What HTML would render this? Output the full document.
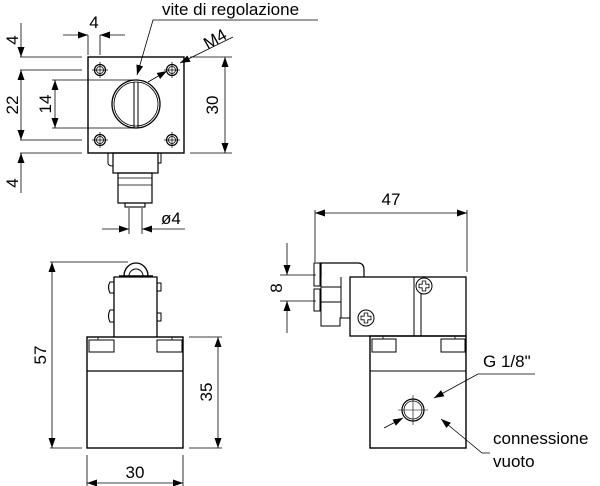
<!DOCTYPE html>
<html><head><meta charset="utf-8"><style>
html,body{margin:0;padding:0;background:#fff}
svg{display:block}
text{font-family:"Liberation Sans",Arial,sans-serif;fill:#000}
</style></head><body>
<svg width="600" height="486" viewBox="0 0 600 486" xmlns="http://www.w3.org/2000/svg">
<defs>
<marker id="a" viewBox="0 0 10 10" refX="10" refY="5" markerWidth="10" markerHeight="10" orient="auto-start-reverse" markerUnits="userSpaceOnUse"><path d="M0,1.5 L10,5 L0,8.5 z" fill="#000"/></marker>
<g id="hole"><circle r="5.5" fill="none" stroke="#000" stroke-width="1.2"/><circle r="3.5" fill="none" stroke="#000" stroke-width="0.8"/><path d="M-8,0H8M0,-8V8" stroke="#000" stroke-width="0.7"/></g>
<g id="screw"><circle r="8" fill="#fff" stroke="#000" stroke-width="1"/><path d="M-1.8,-5h3.6v3.2h3.2v3.6h-3.2v3.2h-3.6v-3.2h-3.2v-3.6h3.2z" fill="none" stroke="#000" stroke-width="0.8"/></g>
</defs>
<g fill="none" stroke="#000" stroke-width="0.8">
<rect x="88" y="57" width="96" height="96" stroke-width="1.4"/>
<circle cx="136" cy="104" r="24" stroke-width="1.3"/>
<circle cx="136" cy="104" r="22" stroke-width="0.8"/>
<path d="M134,82V128M138,82V128" stroke-width="1"/>
<rect x="113" y="153" width="45" height="20" stroke-width="1.2"/>
<path d="M108,153V163Q108,166 113,166M158,153V163H161V153" stroke-width="1"/>
<rect x="118" y="173" width="34" height="30" stroke-width="1.2"/>
<path d="M118,178H152M118,185H152" stroke-width="0.7"/>
<rect x="125" y="203" width="20" height="4" stroke-width="1.1"/>
<path d="M20,57H82M20,70H82M20,140H82M20,153H82"/>
<path d="M52,80H136M52,128H136"/>
<path d="M190,57H232M190,153H232"/>
<path d="M88,35V55M100,35V55"/>
<path d="M129,208V234M142,208V234"/>
<path d="M21,23V57" marker-end="url(#a)"/>
<path d="M21,70V140" marker-start="url(#a)" marker-end="url(#a)"/>
<path d="M21,153V193" marker-start="url(#a)"/>
<path d="M55,80V128" marker-start="url(#a)" marker-end="url(#a)"/>
<path d="M225,57V153" marker-start="url(#a)" marker-end="url(#a)"/>
<path d="M63,35H88" marker-end="url(#a)"/>
<path d="M125,35H100" marker-end="url(#a)"/>
<path d="M102,229H129" marker-end="url(#a)"/>
<path d="M185,229H142" marker-end="url(#a)"/>
<path d="M318,20H153L137,75" marker-end="url(#a)"/>
<path d="M233,37L180,63" marker-end="url(#a)"/>
<path d="M148,82L167,71" marker-end="url(#a)"/>

<rect x="87" y="337" width="96" height="111" stroke-width="1.4"/>
<path d="M87,371H183" stroke-width="1.2"/>
<path d="M114,337V277H157V337" stroke-width="1.3"/>
<path d="M89,340H114V352H89zM157,340H182V352H157z" stroke-width="1"/>
<path d="M98,337V340M172,337V340"/>
<path d="M124,276A12,13 0 0 1 148,276" stroke-width="1.3"/>
<path d="M129,276A7,7 0 0 1 143,276" stroke-width="1"/>
<path d="M119,276H153" stroke-width="1.5"/>
<path d="M114,282H110Q107,287 110,293H114M114,310H110Q107,316 110,322H114" stroke-width="1.1"/>
<rect x="157" y="283" width="4" height="8" stroke-width="1"/>
<rect x="157" y="313" width="4" height="8" stroke-width="1"/>
<path d="M50,262H128M50,448H82M189,337H222M189,448H222M87,455V486M183,455V486"/>
<path d="M52,262V448" marker-start="url(#a)" marker-end="url(#a)"/>
<path d="M218,337V448" marker-start="url(#a)" marker-end="url(#a)"/>
<path d="M87,483H183" marker-start="url(#a)" marker-end="url(#a)"/>

<rect x="350" y="277" width="116" height="59" stroke-width="1.3"/>
<path d="M414,277V336M421,284V336" stroke-width="1"/>
<path d="M321,277V263H358Q364,263 364,270V277" stroke-width="1.2"/>
<path d="M321,277V326H340V318H350M341,277V318M321,287H341M321,302H341" stroke-width="1"/>
<rect x="314" y="263" width="6" height="23" stroke-width="1"/>
<rect x="314" y="289" width="6" height="22" stroke-width="1"/>
<rect x="370" y="336" width="96" height="112" stroke-width="1.4"/>
<path d="M370,371H466" stroke-width="1.1"/>
<path d="M372,339H396V352H372zM441,339H465V352H441z" stroke-width="1"/>
<path d="M383,336V339M455,336V339"/>
<circle cx="413" cy="410" r="11" stroke-width="1.2"/>
<circle cx="413" cy="410" r="9" stroke-width="0.8"/>
<path d="M398,410H428M413,395V425" stroke-width="0.6"/>
<path d="M315,210V262M467,210V272"/>
<path d="M315,213H467" marker-start="url(#a)" marker-end="url(#a)"/>
<path d="M280,275H316M280,301H316"/>
<path d="M287,243V275" marker-end="url(#a)"/>
<path d="M287,333V301" marker-end="url(#a)"/>
<path d="M535,374H478L434,398" marker-end="url(#a)"/>
<path d="M384,428L403,418" marker-end="url(#a)"/>
<path d="M490,453H482L441,419" marker-end="url(#a)"/>
</g>
<use href="#hole" x="100" y="70"/><use href="#hole" x="172" y="70"/>
<use href="#hole" x="100" y="140"/><use href="#hole" x="172" y="140"/>
<use href="#screw" x="366" y="318"/><use href="#screw" x="424" y="286"/>
<g font-size="17">
<text x="162" y="15">vite di regolazione</text>
<text x="94" y="28" text-anchor="middle">4</text>
<text transform="translate(218,44) rotate(-30)" text-anchor="middle">M4</text>
<text transform="translate(18,40) rotate(-90)" text-anchor="middle">4</text>
<text transform="translate(18,105) rotate(-90)" text-anchor="middle">22</text>
<text transform="translate(51,104) rotate(-90)" text-anchor="middle">14</text>
<text transform="translate(18,183) rotate(-90)" text-anchor="middle">4</text>
<text transform="translate(218,105) rotate(-90)" text-anchor="middle">30</text>
<text x="161" y="224">ø4</text>
<text transform="translate(46,355) rotate(-90)" text-anchor="middle">57</text>
<text transform="translate(212,392) rotate(-90)" text-anchor="middle">35</text>
<text x="135" y="478" text-anchor="middle">30</text>
<text x="391" y="205" text-anchor="middle">47</text>
<text transform="translate(282,288) rotate(-90)" text-anchor="middle">8</text>
<text x="483" y="367">G 1/8"</text>
<text x="493" y="444">connessione</text>
<text x="493" y="467">vuoto</text>
</g>
</svg>
</body></html>
